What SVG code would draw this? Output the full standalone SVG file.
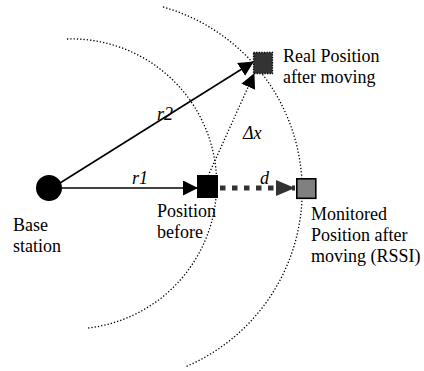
<svg xmlns="http://www.w3.org/2000/svg" width="424" height="371" viewBox="0 0 424 371">
<style>
.t{font-family:'Liberation Serif',serif;font-size:18px;fill:#000}
.it{font-style:italic}
.arc{fill:none;stroke:#000;stroke-width:1.3;stroke-dasharray:1.3 2}
.solid{stroke:#000;stroke-width:1.6;fill:none}
</style>
<defs>
<marker id="ah" markerUnits="userSpaceOnUse" markerWidth="15" markerHeight="15" refX="14" refY="7.5" orient="auto" viewBox="0 0 15 15">
<path d="M0,0 L15,7.5 L0,15 z" fill="#000"/>
</marker>
<marker id="ahg" markerUnits="userSpaceOnUse" markerWidth="19" markerHeight="16" refX="19" refY="8" orient="auto" viewBox="0 0 19 16">
<path d="M0,0 L19,8 L0,16 z" fill="#333"/>
</marker>
</defs>
<g id="arcs">
<path class="arc" d="M67,39 A145 145 0 0 1 88,328"/>
<path class="arc" d="M163,7 A191 191 0 0 1 185,367"/>
</g>
<g id="connectors">
<line class="solid" x1="62" y1="188" x2="197" y2="188" marker-end="url(#ah)"/>
<line class="solid" x1="60" y1="183" x2="253" y2="62" marker-end="url(#ah)"/>
<line x1="208" y1="176" x2="254" y2="74" stroke="#000" stroke-width="1.3" stroke-dasharray="1.3 2" marker-end="url(#ah)"/>
<line x1="220" y1="188" x2="295" y2="188" stroke="#333" stroke-width="5" stroke-dasharray="5.5 6.5" marker-end="url(#ahg)"/>
</g>
<g id="base">
<circle cx="49" cy="188" r="13" fill="#000"/>
<text class="t" font-family="Liberation Serif, serif" font-size="18" x="13" y="231">Base</text>
<text class="t" font-family="Liberation Serif, serif" font-size="18" x="13" y="252">station</text>
</g>
<g id="before">
<rect x="197" y="175" width="21" height="23" fill="#000"/>
<text class="t" font-family="Liberation Serif, serif" font-size="18" x="157" y="217">Position</text>
<text class="t" font-family="Liberation Serif, serif" font-size="18" x="157" y="238">before</text>
</g>
<g id="monitored">
<rect x="296.8" y="178.8" width="19" height="19.5" fill="#808080" stroke="#000" stroke-width="1.6"/>
<text class="t" font-family="Liberation Serif, serif" font-size="18" x="311" y="220">Monitored</text>
<text class="t" font-family="Liberation Serif, serif" font-size="18" x="311" y="241">Position after</text>
<text class="t" font-family="Liberation Serif, serif" font-size="18" x="311" y="262">moving (RSSI)</text>
</g>
<g id="real">
<rect x="253.5" y="52.5" width="19" height="21" fill="#333" stroke="#000" stroke-width="1.3" stroke-dasharray="1.3 1.3"/>
<text class="t" font-family="Liberation Serif, serif" font-size="18" x="283" y="62">Real Position</text>
<text class="t" font-family="Liberation Serif, serif" font-size="18" x="283" y="83">after moving</text>
</g>
<g id="labels">
<text class="t it" font-family="Liberation Serif, serif" font-size="18" x="132" y="184">r1</text>
<text class="t it" font-family="Liberation Serif, serif" font-size="18" x="157" y="120">r2</text>
<text class="t it" font-family="Liberation Serif, serif" font-size="18" x="243" y="139">Δx</text>
<text class="t it" font-family="Liberation Serif, serif" font-size="18" x="260" y="184">d</text>
</g>
</svg>
